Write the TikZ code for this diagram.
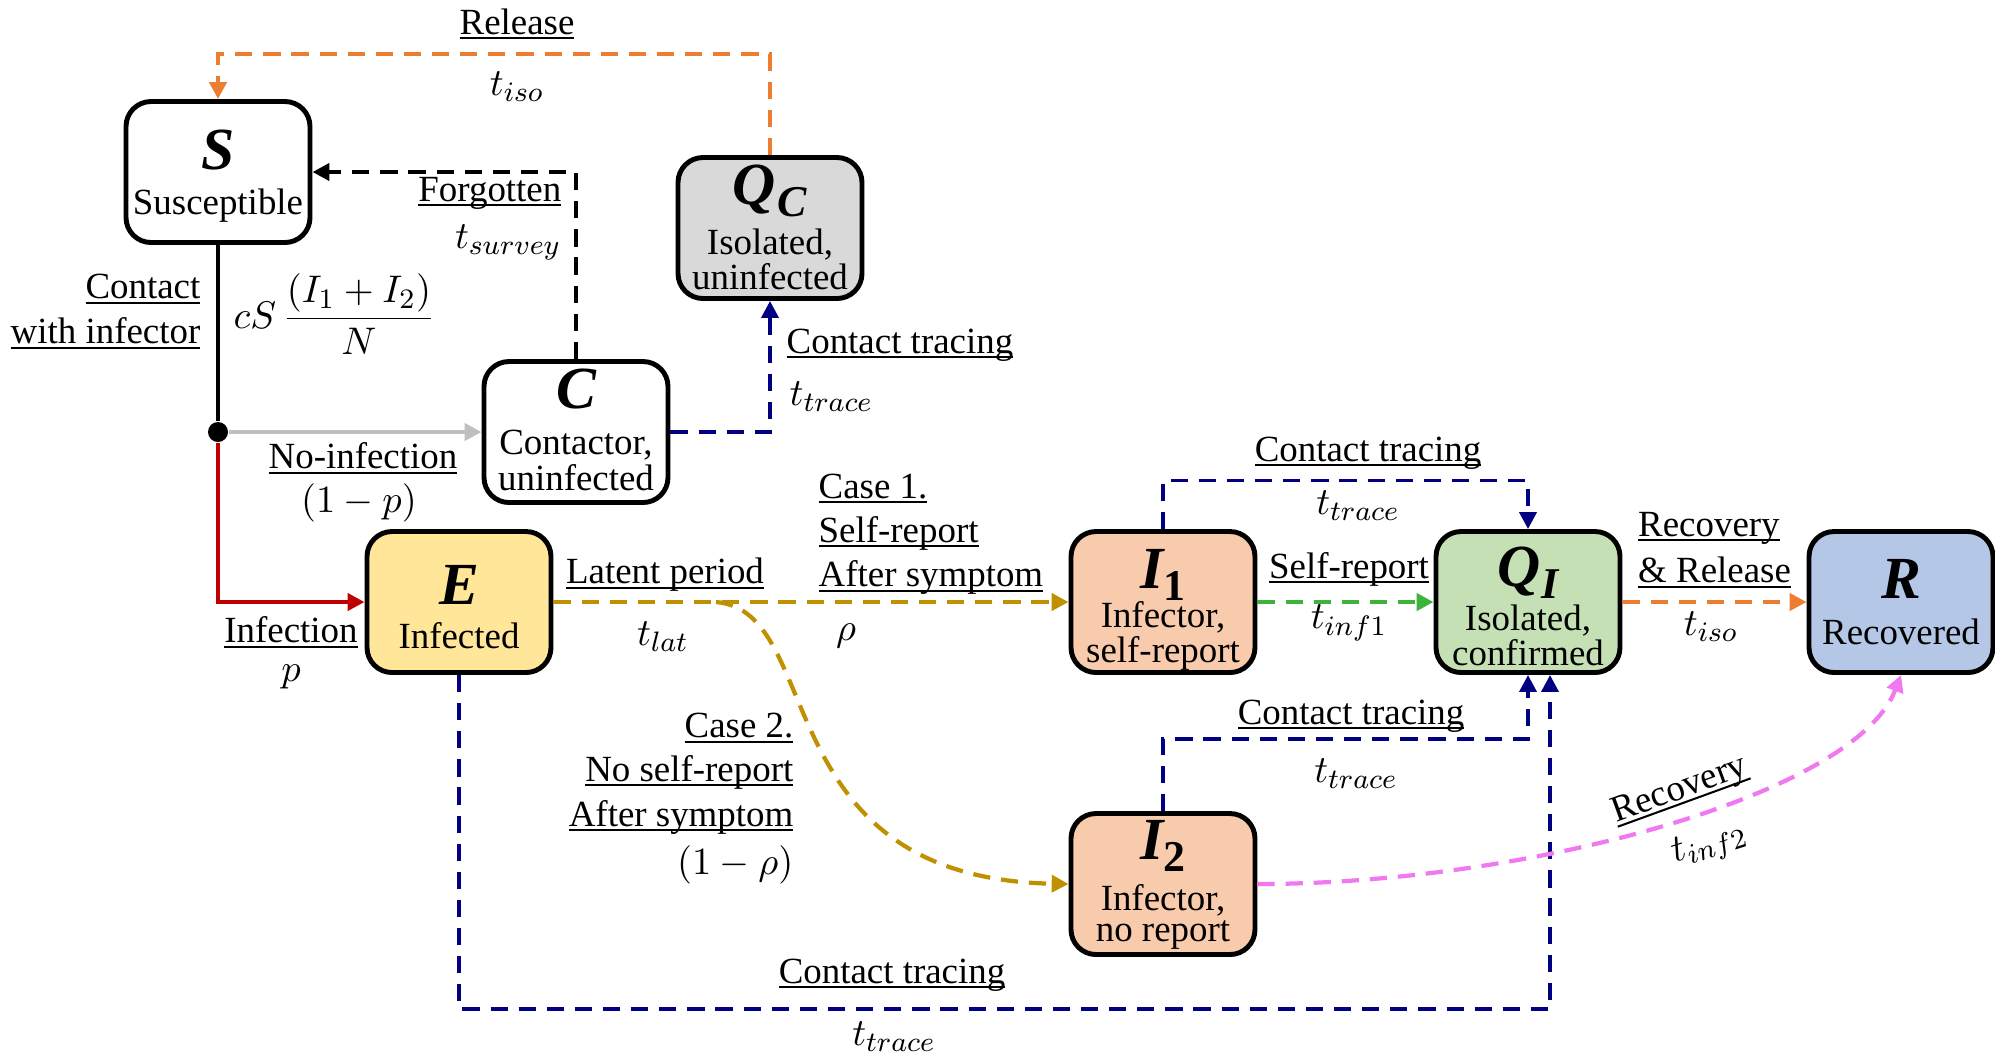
\documentclass[tikz,border=0pt]{standalone}
\usepackage{fontspec}
\setmainfont{Liberation Serif}
\usetikzlibrary{arrows.meta,calc}
\definecolor{cOrange}{RGB}{237,125,49}
\definecolor{cNavy}{RGB}{0,0,128}
\definecolor{cGold}{RGB}{191,144,0}
\definecolor{cGreen}{RGB}{60,180,60}
\definecolor{cPink}{RGB}{240,120,240}
\definecolor{cRed}{RGB}{192,0,0}
\definecolor{cGray}{RGB}{191,191,191}
\definecolor{fGray}{RGB}{217,217,217}
\definecolor{fYellow}{RGB}{255,230,153}
\definecolor{fPeach}{RGB}{248,203,173}
\definecolor{fGreen}{RGB}{197,224,180}
\definecolor{fBlue}{RGB}{180,199,231}
\newcommand{\mysub}[1]{\raisebox{-0.45ex}{\fontsize{12.5}{12.5}\selectfont #1}}
\newcommand{\uln}[1]{\setbox0=\hbox{#1}\rlap{\rule[-0.14em]{\wd0}{0.055em}}\box0}
\begin{document}
\begin{tikzpicture}[
 box/.style={draw, line width=1.4pt, rounded corners=0.25cm, minimum width=1.84cm, minimum height=1.41cm, inner sep=0pt},
 ttl/.style={font=\fontsize{17}{17}\selectfont\bfseries\itshape, inner sep=0pt},
 dsc/.style={font=\fontsize{10.5}{8.8}\selectfont, align=center, inner sep=0pt},
 lbl/.style={font=\fontsize{10.5}{12}\selectfont, inner sep=0pt},
 mth/.style={font=\fontsize{11}{13}\selectfont, inner sep=0pt},
 conn/.style={line width=1.2pt, -{Triangle[length=4.8pt,width=4.8pt]}},
 dsh/.style={conn, dash pattern=on 4.9pt off 3.1pt},
 nav/.style={dsh, cNavy, line width=1.05pt},
]
\useasboundingbox (0,0) rectangle (19.95,-10.55);

% boxes
\node[box, fill=white] (S) at (2.18,-1.72) {};
\node[box, fill=fGray] (QC) at (7.70,-2.28) {};
\node[box, fill=white] (C) at (5.76,-4.32) {};
\node[box, fill=fYellow] (E) at (4.59,-6.02) {};
\node[box, fill=fPeach] (I1) at (11.63,-6.02) {};
\node[box, fill=fGreen] (QI) at (15.28,-6.02) {};
\node[box, fill=fBlue] (R) at (19.01,-6.02) {};
\node[box, fill=fPeach] (I2) at (11.63,-8.84) {};

% box contents
\node[ttl] (S-t) at ($(S)+(0,0.22)$) {S};
\node[dsc] (S-d) at ($(S)+(0,-0.34)$) {Susceptible};
\node[ttl] (QC-t) at ($(QC)+(0,0.37)$) {Q\kern0.03em\mysub{C}};
\node[dsc] (QC-d) at ($(QC)+(0,-0.315)$) {Isolated,\\uninfected};
\node[ttl] (C-t) at ($(C)+(0,0.43)$) {C};
\node[dsc] (C-d) at ($(C)+(0,-0.285)$) {Contactor,\\uninfected};
\node[ttl] (E-t) at ($(E)+(0,0.17)$) {E};
\node[dsc] (E-d) at ($(E)+(0,-0.34)$) {Infected};
\node[ttl] (I1-t) at ($(I1)+(0,0.27)$) {I\mysub{\upshape 1}};
\node[dsc] (I1-d) at ($(I1)+(0,-0.335)$) {Infector,\\self-report};
\node[ttl] (QI-t) at ($(QI)+(0,0.295)$) {Q\kern0.03em\mysub{I}};
\node[dsc] (QI-d) at ($(QI)+(0,-0.335)$) {Isolated,\\confirmed};
\node[ttl] (R-t) at ($(R)+(0,0.23)$) {R};
\node[dsc] (R-d) at ($(R)+(0,-0.30)$) {Recovered};
\node[ttl] (I2-t) at ($(I2)+(0,0.38)$) {I\mysub{\upshape 2}};
\node[dsc] (I2-d) at ($(I2)+(0,-0.33)$) {Infector,\\no report};

% junction
\node[circle, fill=black, inner sep=0pt, minimum size=0.2cm] (dot) at (2.18,-4.32) {};
\coordinate (split) at (7.16,-6.02);

% connectors
\draw[line width=1.2pt] (S.south) -- (dot);
\draw[conn, cGray] (dot) -- (C.west);
\draw[conn, cRed] (dot) |- (E.west);
\draw[dsh, black] (C.north) |- (S.east);
\draw[nav] (C.east) -| (QC.south);
\draw[dsh, cOrange] (QC.north) -- ++(0,1.01) -| (S.north);
\draw[dsh, cGold] (E.east) -- (I1.west);
\draw[dsh, cGold] (split) .. controls (8.27,-6.11) and (7.63,-8.78) .. (I2.west);
\draw[nav] (I1.north) -- ++(0,0.485) -| (QI.north);
\draw[dsh, cGreen] (I1.east) -- (QI.west);
\draw[dsh, cOrange] (QI.east) -- (R.west);
\draw[nav] (I2.north) -- ++(0,0.72) -| (QI.south);
\draw[nav] (E.south) -- ++(0,-3.34) -| ([xshift=0.22cm]QI.south);
\draw[dsh, cPink] (I2.east) .. controls (15.27,-8.84) and (18.55,-7.95) .. (R.south);

% labels
\node[lbl] (lRel) at (5.17,-0.24) {\uln{Release}};
\node[mth] (tRel) at (5.17,-0.865) {$t_{iso}$};
\node[lbl, anchor=east] (lForg) at (5.62,-1.93) {\uln{Forgotten}};
\node[mth, anchor=east] (tForg) at (5.62,-2.42) {$t_{survey}$};
\node[lbl, anchor=east] (lCon1) at (2.01,-2.89) {\uln{Contact}};
\node[lbl, anchor=east] (lCon2) at (2.01,-3.33) {\uln{with infector}};
\node[mth, anchor=west] (fml) at (2.33,-3.14) {$cS\,\displaystyle\frac{(I_1+I_2)}{N}$};
\node[lbl] (lNoinf) at (3.63,-4.58) {\uln{No-infection}};
\node[mth] (tNoinf) at (3.59,-5.025) {$(1-p)$};
\node[lbl] (lInf) at (2.91,-6.32) {\uln{Infection}};
\node[mth] (tInf) at (2.91,-6.77) {$p$};
\node[lbl, anchor=west] (lCT1) at (7.86,-3.45) {\uln{Contact tracing}};
\node[mth, anchor=west] (tCT1) at (7.89,-3.97) {$t_{trace}$};
\node[lbl] (lLat) at (6.65,-5.75) {\uln{Latent period}};
\node[mth] (tLat) at (6.63,-6.37) {$t_{lat}$};
\node[lbl, anchor=west] (lC1a) at (8.18,-4.886) {\uln{Case 1.}};
\node[lbl, anchor=west] (lC1b) at (8.18,-5.33) {\uln{Self-report}};
\node[lbl, anchor=west] (lC1c) at (8.18,-5.776) {\uln{After symptom}};
\node[mth] (tC1) at (8.46,-6.36) {$\rho$};
\node[lbl, anchor=east] (lC2a) at (7.94,-7.28) {\uln{Case 2.}};
\node[lbl, anchor=east] (lC2b) at (7.94,-7.72) {\uln{No self-report}};
\node[lbl, anchor=east] (lC2c) at (7.94,-8.17) {\uln{After symptom}};
\node[mth, anchor=east] (tC2) at (7.94,-8.65) {$(1-\rho)$};
\node[lbl] (lCT2) at (13.68,-4.53) {\uln{Contact tracing}};
\node[mth] (tCT2) at (13.58,-5.06) {$t_{trace}$};
\node[lbl] (lSR) at (13.49,-5.69) {\uln{Self-report}};
\node[mth] (tSR) at (13.49,-6.23) {$t_{inf1}$};
\node[lbl, anchor=west] (lRec1) at (16.375,-5.28) {\uln{Recovery}};
\node[lbl, anchor=west] (lRec2) at (16.375,-5.725) {\uln{\& Release}};
\node[mth] (tRec) at (17.11,-6.27) {$t_{iso}$};
\node[lbl] (lCT3) at (13.51,-7.16) {\uln{Contact tracing}};
\node[mth] (tCT3) at (13.56,-7.735) {$t_{trace}$};
\node[lbl, rotate=20] (lRec3) at (16.80,-7.91) {\uln{Recovery}};
\node[mth, rotate=18] (tRec3) at (17.10,-8.45) {$t_{inf2}$};
\node[lbl] (lCT4) at (8.92,-9.75) {\uln{Contact tracing}};
\node[mth] (tCT4) at (8.94,-10.37) {$t_{trace}$};
\end{tikzpicture}
\end{document}
